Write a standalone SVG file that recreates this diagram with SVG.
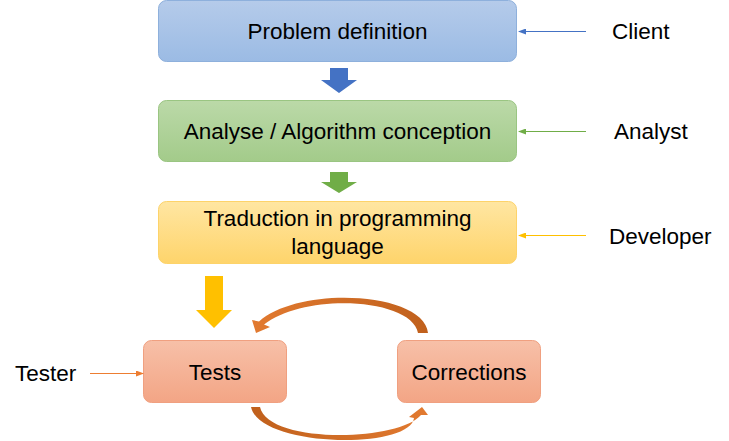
<svg xmlns="http://www.w3.org/2000/svg" width="729" height="441" viewBox="0 0 729 441">
<defs>
<linearGradient id="gBlue" x1="0" y1="0" x2="0" y2="1"><stop offset="0" stop-color="#b5cbea"/><stop offset="1" stop-color="#9bbbe4"/></linearGradient>
<linearGradient id="gGreen" x1="0" y1="0" x2="0" y2="1"><stop offset="0" stop-color="#bbd9a8"/><stop offset="1" stop-color="#a3cb8a"/></linearGradient>
<linearGradient id="gYellow" x1="0" y1="0" x2="0" y2="1"><stop offset="0" stop-color="#ffe6a2"/><stop offset="1" stop-color="#fed46b"/></linearGradient>
<linearGradient id="gOrange" x1="0" y1="0" x2="0" y2="1"><stop offset="0" stop-color="#f7c0a8"/><stop offset="1" stop-color="#f3a585"/></linearGradient>
<linearGradient id="gCurve" x1="0" y1="0" x2="1" y2="0"><stop offset="0" stop-color="#e27a30"/><stop offset="1" stop-color="#c0601c"/></linearGradient>
<linearGradient id="gCurve2" x1="0" y1="0" x2="1" y2="0"><stop offset="0" stop-color="#c0601c"/><stop offset="1" stop-color="#e27a30"/></linearGradient>
<marker id="mBlue" markerWidth="8" markerHeight="6" refX="7" refY="3" orient="auto" markerUnits="userSpaceOnUse"><path d="M0,0 L8,3 L0,6 Z" fill="#4472c4"/></marker>
<marker id="mGreen" markerWidth="8" markerHeight="6" refX="7" refY="3" orient="auto" markerUnits="userSpaceOnUse"><path d="M0,0 L8,3 L0,6 Z" fill="#70ad47"/></marker>
<marker id="mYellow" markerWidth="8" markerHeight="6" refX="7" refY="3" orient="auto" markerUnits="userSpaceOnUse"><path d="M0,0 L8,3 L0,6 Z" fill="#ffc000"/></marker>
<marker id="mOrange" markerWidth="8" markerHeight="6" refX="7" refY="3" orient="auto" markerUnits="userSpaceOnUse"><path d="M0,0 L8,3 L0,6 Z" fill="#ed7d31"/></marker>
</defs>
<style>
text{font-family:"Liberation Sans",Arial,sans-serif;font-size:22.5px;fill:#000;}
.c{text-anchor:middle;}
.box{stroke-width:1;}
.ln{stroke-width:1;fill:none;}
</style>
<rect width="729" height="441" fill="#fff"/>
<g id="node-problem">
<rect class="box" x="158.5" y="0.5" width="358" height="61" rx="8" fill="url(#gBlue)" stroke="#8eb0dc"/>
<text class="c" x="337.5" y="39">Problem definition</text>
</g>
<g id="node-analyse">
<rect class="box" x="158.5" y="100.5" width="358" height="61" rx="8" fill="url(#gGreen)" stroke="#9ac582"/>
<text class="c" x="337.5" y="139">Analyse / Algorithm conception</text>
</g>
<g id="node-traduction">
<rect class="box" x="158.5" y="201.5" width="358" height="62" rx="8" fill="url(#gYellow)" stroke="#fdd36a"/>
<text class="c" x="337.5" y="226">Traduction in programming</text>
<text class="c" x="337.5" y="254">language</text>
</g>
<g id="node-tests">
<rect class="box" x="143.5" y="340.5" width="143" height="62" rx="8" fill="url(#gOrange)" stroke="#f0a080"/>
<text class="c" x="215" y="380">Tests</text>
</g>
<g id="node-corrections">
<rect class="box" x="397.5" y="340.5" width="143" height="62" rx="8" fill="url(#gOrange)" stroke="#f0a080"/>
<text class="c" x="469" y="380">Corrections</text>
</g>
<g id="label-client"><text x="612" y="39">Client</text></g>
<g id="label-analyst"><text x="614" y="139">Analyst</text></g>
<g id="label-developer"><text x="609" y="244">Developer</text></g>
<g id="label-tester"><text x="15" y="381">Tester</text></g>
<g id="connectors">
<line class="ln" x1="586" y1="31.5" x2="519" y2="31.5" stroke="#4472c4" marker-end="url(#mBlue)"/>
<line class="ln" x1="586" y1="131.5" x2="519" y2="131.5" stroke="#70ad47" marker-end="url(#mGreen)"/>
<line class="ln" x1="586" y1="235.5" x2="519" y2="235.5" stroke="#ffc000" marker-end="url(#mYellow)"/>
<line class="ln" x1="90" y1="373.5" x2="143" y2="373.5" stroke="#ed7d31" marker-end="url(#mOrange)"/>
<path d="M330 68 H348 V80 H357 L339 93 L321 80 H330 Z" fill="#4472c4"/>
<path d="M330 172 H348 V182 H357 L339 193 L321 182 H330 Z" fill="#70ad47"/>
<path d="M205 276 H223 V310 H232 L214 328 L196 310 H205 Z" fill="#ffc000"/>
<path d="M428 333 C 424 292, 300 285, 259 321.5 L 252 320 L 256 333 L 270 327 L 264 324.5 C 305 292, 412 298, 418 333 Z" fill="url(#gCurve)"/>
<path d="M251 407 C 260 448, 410 450, 414 418 L 409 417 L 422 407 L 428 415 L 421 415 C 398 442, 268 444, 260 407 Z" fill="url(#gCurve2)"/>
</g>
</svg>
